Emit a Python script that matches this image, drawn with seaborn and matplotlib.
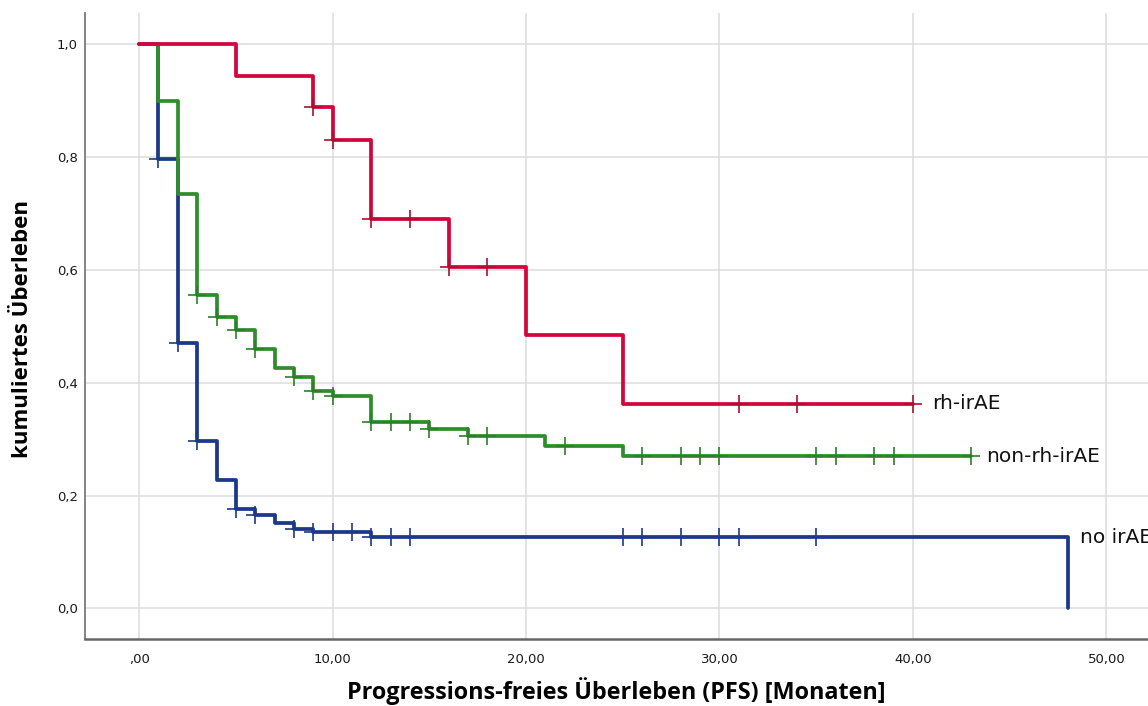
import numpy as np
import pandas as pd
import matplotlib
matplotlib.use("Agg")
import matplotlib.pyplot as plt
import seaborn as sns

# Kaplan-Meier steps (time in months, survival)
red_t = [0, 5, 9, 10, 12, 16, 20, 25, 40]
red_s = [1.0, 0.944, 0.889, 0.830, 0.691, 0.606, 0.485, 0.363, 0.363]
red_c = [9, 10, 12, 14, 16, 18, 31, 34, 40]

green_t = [0, 1, 2, 3, 4, 5, 6, 7, 8, 9, 10, 12, 15, 17, 21, 25, 43]
green_s = [1.0, 0.900, 0.735, 0.555, 0.517, 0.493, 0.460, 0.427, 0.411, 0.386,
           0.377, 0.331, 0.319, 0.306, 0.288, 0.270, 0.270]
green_c = [3, 4, 5, 6, 8, 9, 10, 12, 13, 14, 15, 17, 18, 22, 26, 28, 29, 30,
           35, 36, 38, 39, 43]

blue_t = [0, 1, 2, 3, 4, 5, 6, 7, 8, 9, 12, 48]
blue_s = [1.0, 0.796, 0.470, 0.297, 0.228, 0.176, 0.166, 0.152, 0.141, 0.136,
          0.126, 0.0]
blue_c = [1, 2, 3, 5, 6, 8, 9, 10, 11, 12, 13, 14, 25, 26, 28, 30, 31, 35]

groups = ["no irAE", "non-rh-irAE", "rh-irAE"]
colors = {"rh-irAE": "#D4043C", "non-rh-irAE": "#2F8E2B", "no irAE": "#1C3888"}
mark_colors = {"rh-irAE": "#A8122E", "non-rh-irAE": "#2B7F27", "no irAE": "#1C3888"}
label_offset = {"rh-irAE": 14, "non-rh-irAE": 11, "no irAE": 9}

x_ticks = [0, 10, 20, 30, 40, 50]
x_ticklabels = [",00", "10,00", "20,00", "30,00", "40,00", "50,00"]
y_ticks = [0.0, 0.2, 0.4, 0.6, 0.8, 1.0]
y_ticklabels = ["0,0", "0,2", "0,4", "0,6", "0,8", "1,0"]

curves = {"no irAE": (blue_t, blue_s, blue_c),
          "non-rh-irAE": (green_t, green_s, green_c),
          "rh-irAE": (red_t, red_s, red_c)}

steps = []
cens = []
for g, (t, s, c) in curves.items():
    steps.append(pd.DataFrame({"time": t, "surv": s, "group": g}))
    # censored marks sit on the step level at their time
    idx = np.searchsorted(t, c, side="right") - 1
    cens.append(pd.DataFrame({"time": c, "surv": np.array(s)[idx], "group": g}))
steps = pd.concat(steps, ignore_index=True)
cens = pd.concat(cens, ignore_index=True)

sns.set_style("whitegrid")
plt.rcParams["font.family"] = ["DejaVu Sans"]

fig = plt.figure(figsize=(11.48, 7.06), dpi=100)
ax = fig.add_axes([0.074, 0.095, 0.926, 0.886])

for i, g in enumerate(groups):
    sub = steps[steps.group == g]
    sns.lineplot(data=sub, x="time", y="surv", color=colors[g], estimator=None,
                 sort=False, drawstyle="steps-post", linewidth=2.7, ax=ax,
                 legend=False, zorder=3 + i)
    csub = cens[cens.group == g]
    sns.scatterplot(data=csub, x="time", y="surv", marker="+", s=150,
                    color=mark_colors[g], linewidth=1.2, ax=ax, legend=False,
                    zorder=3 + i)

# curve labels at the end of each line
for g, (t, s, c) in curves.items():
    end_x = max(t[-1], c[-1])
    end_y = s[-2] if g == "no irAE" else s[-1]
    ax.annotate(g, (end_x, end_y), xytext=(label_offset[g], 0),
                textcoords="offset points", va="center", ha="left",
                fontsize=14.5, color="#111111", annotation_clip=False)

ax.set_xlim(-2.8, 52.15)
ax.set_ylim(-0.054, 1.055)
ax.set_xticks(x_ticks)
ax.set_xticklabels(x_ticklabels)
ax.set_yticks(y_ticks)
ax.set_yticklabels(y_ticklabels)
ax.tick_params(length=0, labelsize=9.5, colors="#1a1a1a")
ax.tick_params(axis="y", pad=5)
ax.tick_params(axis="x", pad=10)

ax.grid(True, color="#dcdcdc", linewidth=1.1)
for side in ["top", "right"]:
    ax.spines[side].set_visible(False)
ax.spines["left"].set_color("#7a7a7a")
ax.spines["left"].set_linewidth(1.3)
ax.spines["bottom"].set_color("#666666")
ax.spines["bottom"].set_linewidth(1.8)

ax.set_xlabel("Progressions-freies Überleben (PFS) [Monaten]", fontsize=16.8,
              fontweight="bold", family=["Open Sans", "DejaVu Sans"],
              va="center", color="#000000")
ax.set_ylabel("kumuliertes Überleben", fontsize=16, fontweight="bold",
              family=["Open Sans", "DejaVu Sans"], va="center", color="#000000")
ax.xaxis.set_label_coords(0.5, -0.083)
ax.yaxis.set_label_coords(-0.059, 0.495)

fig.savefig("out.png", dpi=100)
